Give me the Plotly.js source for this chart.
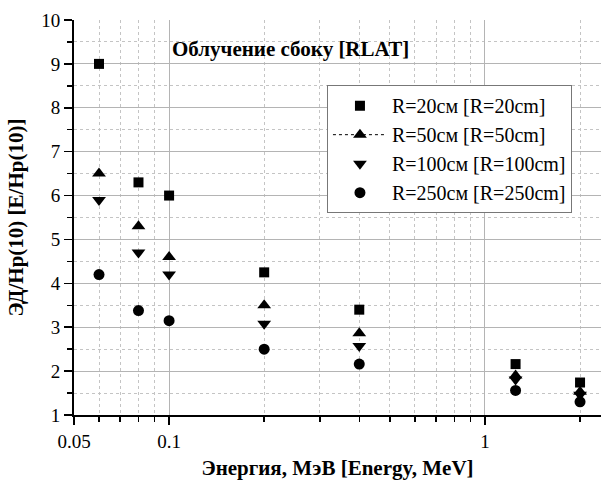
<!DOCTYPE html>
<html>
<head>
<meta charset="utf-8">
<script src="https://cdn.plot.ly/plotly-3.0.1.min.js"></script>
<style>html,body{margin:0;padding:0;background:#fff;}#chart{width:603px;height:481px;}</style>
</head>
<body>
<div id="chart"></div>
<script>
const energy = [0.06, 0.08, 0.1, 0.2, 0.4, 1.25, 2.0];
const r20  = [9.0, 6.3, 6.0, 4.25, 3.4, 2.16, 1.74];
const r50  = [6.5, 5.3, 4.6, 3.5, 2.86, 1.9, 1.53];
const r100 = [5.9, 4.7, 4.2, 3.08, 2.57, 1.81, 1.46];
const r250 = [4.2, 3.38, 3.15, 2.5, 2.16, 1.56, 1.30];
const names = ["R=20см [R=20cm]", "R=50см [R=50cm]", "R=100см [R=100cm]", "R=250см [R=250cm]"];
const xTickVals = [0.05, 0.1, 1];
const xTickText = ["0.05", "0.1", "1"];
const xMinorVals = [0.06, 0.07, 0.08, 0.09, 0.2, 0.3, 0.4, 0.5, 0.6, 0.7, 0.8, 0.9, 2];
const titleText = "Облучение сбоку [RLAT]";
const xTitle = "Энергия, МэВ [Energy, MeV]";
const yTitle = "ЭД/Hp(10) [E/Hp(10)]";

const F = "Liberation Serif";
const traces = [
  {x: energy, y: r20, mode: "markers", name: names[0], marker: {symbol: "square", size: 10, color: "#000"}},
  {x: energy, y: r50, mode: "markers", name: names[1], showlegend: false, legendgroup: "g50", marker: {symbol: "triangle-up", size: 12, color: "#000"}},
  {x: [null], y: [null], mode: "lines+markers", name: names[1], legendgroup: "g50", line: {color: "#000", width: 1, dash: "dot"}, marker: {symbol: "triangle-up", size: 12, color: "#000"}},
  {x: energy, y: r100, mode: "markers", name: names[2], marker: {symbol: "triangle-down", size: 12, color: "#000"}},
  {x: energy, y: r250, mode: "markers", name: names[3], marker: {symbol: "circle", size: 11, color: "#000"}}
];
const layout = {
  width: 603, height: 481,
  margin: {l: 74, r: 2, t: 20, b: 66},
  paper_bgcolor: "#fff", plot_bgcolor: "#fff",
  font: {family: F, color: "#000", size: 19},
  showlegend: true,
  legend: {x: 0.48, y: 0.835, xanchor: "left", yanchor: "top", bgcolor: "#fff", bordercolor: "#777", borderwidth: 1,
           font: {family: F, size: 20, color: "#000"}, tracegroupgap: 0, itemwidth: 54},
  xaxis: {
    type: "log", range: [Math.log10(0.05), Math.log10(2.33)],
    tickmode: "array", tickvals: xTickVals, ticktext: xTickText,
    ticks: "outside", ticklen: 8, tickwidth: 1.5, tickcolor: "#000",
    showline: true, linecolor: "#000", linewidth: 2,
    showgrid: true, gridcolor: "#b4b4b4", gridwidth: 1,
    zeroline: false,
    tickfont: {family: F, size: 19},
    minor: {tickmode: "array", tickvals: xMinorVals, ticks: "outside", ticklen: 5, tickwidth: 1.5, tickcolor: "#000",
            showgrid: true, gridcolor: "#c4c4c4", griddash: "dot", gridwidth: 1},
    title: {text: xTitle, font: {family: F, size: 21, weight: "bold"}, standoff: 10}
  },
  yaxis: {
    range: [1, 10], dtick: 1, tick0: 0,
    ticks: "outside", ticklen: 8, tickwidth: 1.5, tickcolor: "#000",
    showline: true, linecolor: "#000", linewidth: 2,
    showgrid: true, gridcolor: "#b4b4b4", gridwidth: 1,
    zeroline: false,
    tickfont: {family: F, size: 19},
    minor: {dtick: 0.5, ticks: "outside", ticklen: 5, tickwidth: 1.5, tickcolor: "#000",
            showgrid: true, gridcolor: "#c4c4c4", griddash: "dot", gridwidth: 1},
    title: {text: yTitle, font: {family: F, size: 21, weight: "bold"}, standoff: 12}
  },
  annotations: [{
    text: titleText, xref: "paper", yref: "paper", x: 0.182, y: 0.927, xanchor: "left", yanchor: "middle",
    showarrow: false, font: {family: F, size: 21, weight: "bold", color: "#000"}
  }]
};
Plotly.newPlot("chart", traces, layout, {displayModeBar: false, staticPlot: true});
</script>
</body>
</html>
